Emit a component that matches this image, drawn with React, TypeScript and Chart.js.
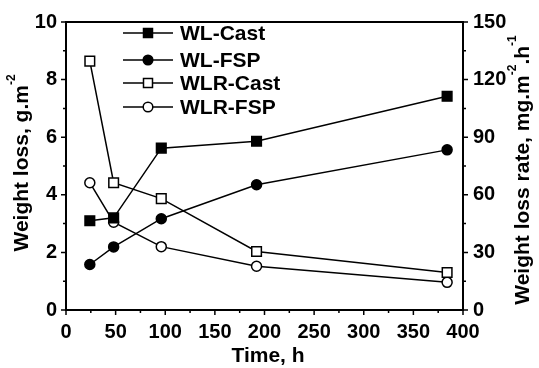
import React, { useEffect, useRef } from "react";
import { Chart, registerables } from "chart.js";

Chart.register(...registerables);

// ---- data ----
const timeHours = [24, 48, 96, 192, 384];
const wlCast = [3.1, 3.2, 5.62, 5.86, 7.42];
const wlFsp = [1.58, 2.19, 3.17, 4.35, 5.56];
const wlrCast = [129.6, 66.3, 58.0, 30.5, 19.5];
const wlrFsp = [66.3, 45.7, 33.0, 22.8, 14.4];

const seriesLabels = ["WL-Cast", "WL-FSP", "WLR-Cast", "WLR-FSP"];
const xTitle = "Time, h";
const leftTitleParts = [
  { t: "Weight loss, g.m", sup: false },
  { t: "-2", sup: true },
];
const rightTitleParts = [
  { t: "Weight loss rate, mg.m", sup: false },
  { t: "-2", sup: true },
  { t: ".h", sup: false },
  { t: "-1", sup: true },
];

const FONT = "'Liberation Sans', Arial, sans-serif";
const tickFont = { family: FONT, size: 20, weight: "bold" as const };

type Part = { t: string; sup: boolean };

function drawRich(ctx: CanvasRenderingContext2D, parts: Part[], cx: number, cy: number, rot: number) {
  const mainF = `bold 21px ${FONT}`;
  const supF = `bold 12px ${FONT}`;
  let total = 0;
  const widths = parts.map((p) => {
    ctx.font = p.sup ? supF : mainF;
    const w = ctx.measureText(p.t).width;
    total += w;
    return w;
  });
  ctx.save();
  ctx.translate(cx, cy);
  ctx.rotate(rot);
  ctx.fillStyle = "#000";
  ctx.textBaseline = "middle";
  ctx.textAlign = "left";
  let x = -total / 2;
  parts.forEach((p, i) => {
    ctx.font = p.sup ? supF : mainF;
    ctx.fillText(p.t, x, p.sup ? -10 : 0);
    x += widths[i];
  });
  ctx.restore();
}

function drawMarker(ctx: CanvasRenderingContext2D, style: string, filled: boolean, x: number, y: number) {
  ctx.save();
  ctx.lineWidth = 1.5;
  ctx.strokeStyle = "#000";
  ctx.fillStyle = filled ? "#000" : "#fff";
  ctx.beginPath();
  if (style === "rect") {
    const s = 4.5;
    ctx.rect(x - s, y - s, 2 * s, 2 * s);
  } else {
    ctx.arc(x, y, 4.8, 0, Math.PI * 2);
  }
  ctx.fill();
  ctx.stroke();
  ctx.restore();
}

const framePlugin = {
  id: "frameAndDecor",
  afterDraw(chart: any) {
    const ctx: CanvasRenderingContext2D = chart.ctx;
    const { left, right, top, bottom } = chart.chartArea;
    const xs = chart.scales.x;
    const ys = chart.scales.y;
    const y1 = chart.scales.y1;
    ctx.save();
    ctx.strokeStyle = "#000";
    ctx.lineWidth = 2;
    ctx.strokeRect(left, top, right - left, bottom - top);
    ctx.lineWidth = 1.5;
    ctx.beginPath();
    for (let v = 0; v <= 400; v += 25) {
      const px = xs.getPixelForValue(v);
      const len = v % 50 === 0 ? 5 : 3;
      ctx.moveTo(px, bottom);
      ctx.lineTo(px, bottom + len);
    }
    for (let v = 0; v <= 10; v += 1) {
      const py = ys.getPixelForValue(v);
      const len = v % 2 === 0 ? 5 : 3;
      ctx.moveTo(left, py);
      ctx.lineTo(left - len, py);
    }
    for (let v = 0; v <= 150; v += 15) {
      const py = y1.getPixelForValue(v);
      const len = v % 30 === 0 ? 5 : 3;
      ctx.moveTo(right, py);
      ctx.lineTo(right + len, py);
    }
    ctx.stroke();

    // titles
    ctx.fillStyle = "#000";
    ctx.font = `bold 21px ${FONT}`;
    ctx.textAlign = "center";
    ctx.textBaseline = "middle";
    ctx.fillText(xTitle, 268, 356);
    drawRich(ctx, leftTitleParts, 22, 163, -Math.PI / 2);
    drawRich(ctx, rightTitleParts, 523, 170, -Math.PI / 2);

    // legend
    const rows = [33, 60, 83, 107];
    chart.data.datasets.forEach((ds: any, i: number) => {
      const y = rows[i];
      ctx.strokeStyle = "#000";
      ctx.lineWidth = 1.5;
      ctx.beginPath();
      ctx.moveTo(123, y);
      ctx.lineTo(173, y);
      ctx.stroke();
      drawMarker(ctx, ds.pointStyle, ds.pointBackgroundColor === "#000", 148, y);
      ctx.fillStyle = "#000";
      ctx.font = `bold 21px ${FONT}`;
      ctx.textAlign = "left";
      ctx.textBaseline = "middle";
      ctx.fillText(ds.label, 180, y + 1);
    });
    ctx.restore();
  },
};

export default function App() {
  const ref = useRef<HTMLCanvasElement | null>(null);
  useEffect(() => {
    if (!ref.current) return;
    const mk = (label: string, data: number[], axis: string, style: string, filled: boolean) => ({
      label,
      data: timeHours.map((t, i) => ({ x: t, y: data[i] })),
      yAxisID: axis,
      borderColor: "#000",
      borderWidth: 1.5,
      pointStyle: style,
      pointRadius: style === "rect" ? 6.8 : 5,
      pointBorderWidth: 1.5,
      pointBorderColor: "#000",
      pointBackgroundColor: filled ? "#000" : "#fff",
      backgroundColor: filled ? "#000" : "#fff",
      fill: false,
      tension: 0,
      clip: false as any,
    });
    const chart = new Chart(ref.current, {
      type: "line",
      data: {
        datasets: [
          mk(seriesLabels[0], wlCast, "y", "rect", true),
          mk(seriesLabels[1], wlFsp, "y", "circle", true),
          mk(seriesLabels[2], wlrCast, "y1", "rect", false),
          mk(seriesLabels[3], wlrFsp, "y1", "circle", false),
        ],
      },
      options: {
        responsive: false,
        animation: false,
        layout: { padding: { top: 21, left: 0, right: 0, bottom: 0 }, autoPadding: false } as any,
        plugins: { legend: { display: false }, tooltip: { enabled: false } },
        scales: {
          x: {
            type: "linear",
            min: 0,
            max: 400,
            ticks: { stepSize: 50, font: tickFont, color: "#000", padding: 10, maxRotation: 0 },
            grid: { display: false, drawTicks: false },
            border: { display: false },
            afterFit: (s: any) => { s.height = 58; },
          },
          y: {
            type: "linear",
            position: "left",
            min: 0,
            max: 10,
            ticks: { stepSize: 2, font: tickFont, color: "#000", padding: 9 },
            grid: { display: false, drawTicks: false },
            border: { display: false },
            afterFit: (s: any) => { s.width = 66; },
          },
          y1: {
            type: "linear",
            position: "right",
            min: 0,
            max: 150,
            ticks: { stepSize: 30, font: tickFont, color: "#000", padding: 10 },
            grid: { display: false, drawTicks: false },
            border: { display: false },
            afterFit: (s: any) => { s.width = 76; },
          },
        },
      } as any,
      plugins: [framePlugin],
    });
    return () => chart.destroy();
  }, []);
  return (
    <div style={{ position: "fixed", left: 0, top: 0, width: 539, height: 368, background: "#fff" }}>
      <canvas ref={ref} width={539} height={368} />
    </div>
  );
}
